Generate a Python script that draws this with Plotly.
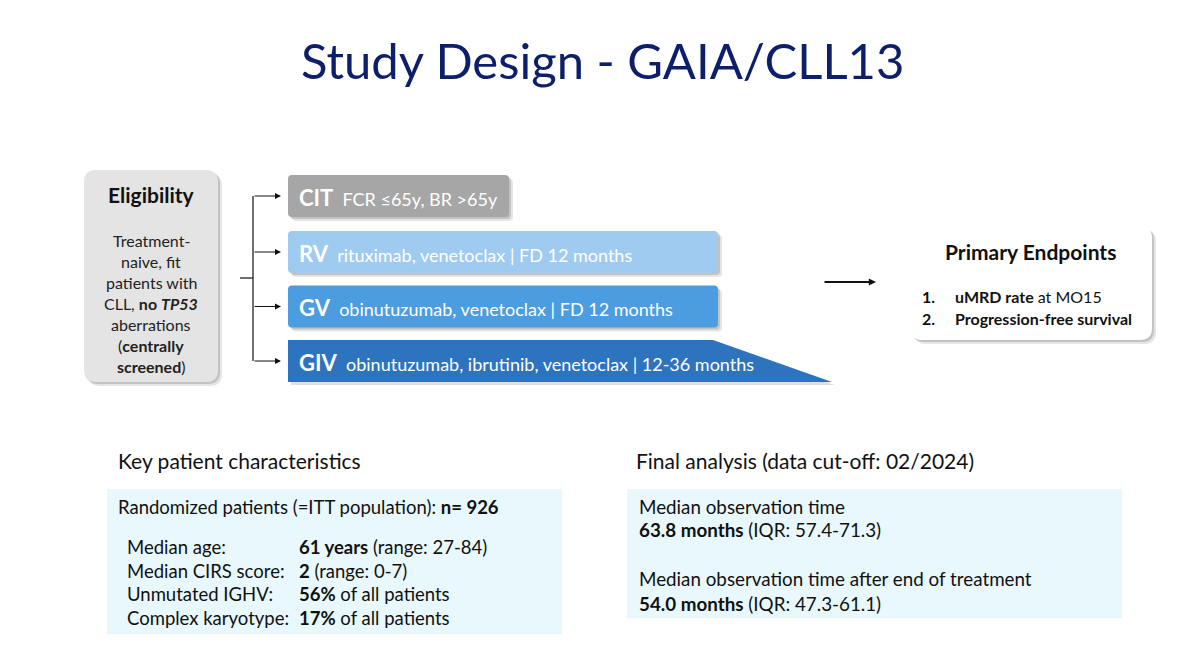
import plotly.graph_objects as go

# ---------------- data ----------------
title_text = "Study Design - GAIA/CLL13"
elig_title = "Eligibility"
elig_lines = ["Treatment-", "naive, fit", "patients with", "CLL, <b>no <i>TP53</i></b>",
              "aberrations", "(<b>centrally</b>", "<b>screened</b>)"]
arm_codes = ["CIT", "RV", "GV", "GIV"]
arm_regimens = ["FCR ≤65y, BR >65y",
                "rituximab, venetoclax | FD 12 months",
                "obinutuzumab, venetoclax | FD 12 months",
                "obinutuzumab, ibrutinib, venetoclax | 12-36 months"]
endpoint_title = "Primary Endpoints"
endpoint_nums = ["1.", "2."]
endpoint_items = ["<b>uMRD rate</b> at MO15", "<b>Progression-free survival</b>"]
left_header = "Key patient characteristics"
itt_line = "Randomized patients (=ITT population): <b>n= 926</b>"
char_labels = ["Median age:", "Median CIRS score:", "Unmutated IGHV:", "Complex karyotype:"]
char_values = ["<b>61 years</b> (range: 27-84)", "<b>2</b> (range: 0-7)",
               "<b>56%</b> of all patients", "<b>17%</b> of all patients"]
right_header = "Final analysis (data cut-off: 02/2024)"
obs_labels = ["Median observation time", "Median observation time after end of treatment"]
obs_values = ["<b>63.8 months</b> (IQR: 57.4-71.3)", "<b>54.0 months</b> (IQR: 47.3-61.1)"]

# ---------------- styles / layout positions ----------------
FONT = "Lato"
arm_colors = ["#A6A6A6", "#A0CBF1", "#4C9CE0", "#2E73BE"]
arm_y = [196, 252, 306.5, 361]
arm_x1 = [509, 718, 718, 713]
arm_h = 42

fig = go.Figure()
shapes = []
ann = []


def rrect(x0, y0, x1, y1, r):
    return (f"M {x0+r},{y0} L {x1-r},{y0} Q {x1},{y0} {x1},{y0+r} L {x1},{y1-r} "
            f"Q {x1},{y1} {x1-r},{y1} L {x0+r},{y1} Q {x0},{y1} {x0},{y1-r} "
            f"L {x0},{y0+r} Q {x0},{y0} {x0+r},{y0} Z")


def box(x0, y0, x1, y1, r, fill, shadow=True, line=None):
    if shadow:
        for k, op in [(4, 0.10), (2, 0.15)]:
            shapes.append(dict(type="path", path=rrect(x0 + k, y0 + k, x1 + k, y1 + k, r),
                               fillcolor="#000000", opacity=op, line=dict(width=0),
                               xref="x", yref="y", layer="below"))
    shapes.append(dict(type="path", path=rrect(x0, y0, x1, y1, r), fillcolor=fill,
                       line=dict(width=0) if line is None else line,
                       xref="x", yref="y", layer="below"))


def text(x, y, s, size, color="#111111", anchor="left"):
    ann.append(dict(x=x, y=y, xref="x", yref="y", text=s, showarrow=False,
                    xanchor=anchor, yanchor="middle",
                    font=dict(family=FONT, size=size, color=color)))


def arrow(x0, y0, x1, y1, width=1.2, size=1.0):
    ann.append(dict(x=x1, y=y1, ax=x0, ay=y0, xref="x", yref="y", axref="x", ayref="y",
                    text="", showarrow=True, arrowhead=2, arrowsize=size,
                    arrowwidth=width, arrowcolor="#111111", standoff=0))


# title
text(602, 60, title_text, 49, "#0D1F6B", "center")

# eligibility box
box(84, 170, 218, 382, 12, "#E4E4E4")
text(151, 194, f"<b>{elig_title}</b>", 21, "#111111", "center")
for i, ln in enumerate(elig_lines):
    text(151, 240 + i * 21, ln, 16, "#222222", "center")

# bracket
shapes.append(dict(type="line", x0=240, x1=253, y0=278, y1=278, xref="x", yref="y",
                   line=dict(color="#111111", width=1.2)))
shapes.append(dict(type="line", x0=253, x1=253, y0=arm_y[0], y1=arm_y[-1], xref="x", yref="y",
                   line=dict(color="#111111", width=1.2)))
for y in arm_y:
    arrow(253, y, 281, y, 1.2, 1.0)

# arms
for i, (code, reg) in enumerate(zip(arm_codes, arm_regimens)):
    y0, y1 = arm_y[i] - arm_h / 2, arm_y[i] + arm_h / 2
    if code == "GIV":
        p = (f"M 288,{y0} L {arm_x1[i]},{y0} L 832,{y1} L 288,{y1} Z")
        shapes.append(dict(type="path", path=f"M 291,{y0+3} L {arm_x1[i]+3},{y0+3} L 835,{y1+3} L 291,{y1+3} Z",
                           fillcolor="#000000", opacity=0.12, line=dict(width=0),
                           xref="x", yref="y", layer="below"))
        shapes.append(dict(type="path", path=p, fillcolor=arm_colors[i], line=dict(width=0),
                           xref="x", yref="y", layer="below"))
    else:
        box(288, y0, arm_x1[i], y1, 4, arm_colors[i])
    text(297, arm_y[i] + 1,
         f"<b><span style='font-size:22px'>{code}</span></b>  {reg}", 18, "#FFFFFF")

# arrow to endpoints
arrow(823, 282, 876, 282, 1.8, 0.8)

# endpoints box
box(910, 226, 1152, 340, 12, "#FFFFFF")
text(1030, 251, f"<b>{endpoint_title}</b>", 21, "#111111", "center")
for i, (n, it) in enumerate(zip(endpoint_nums, endpoint_items)):
    text(920, 296 + i * 22, f"<b>{n}</b>", 16)
    text(953, 296 + i * 22, it, 16)

# bottom left
text(116, 460, left_header, 21, "#111111")
shapes.append(dict(type="rect", x0=107, x1=562, y0=489, y1=634, xref="x", yref="y",
                   fillcolor="#E8F8FC", line=dict(width=0), layer="below"))
text(116, 507, itt_line, 18.5)
for i, (lab, val) in enumerate(zip(char_labels, char_values)):
    yy = 547 + i * 23.5
    text(125, yy, lab, 18.5)
    text(297, yy, val, 18.5)

# bottom right
text(634, 460, right_header, 21, "#111111")
shapes.append(dict(type="rect", x0=627, x1=1122, y0=489, y1=618, xref="x", yref="y",
                   fillcolor="#E8F8FC", line=dict(width=0), layer="below"))
for i, (lab, val) in enumerate(zip(obs_labels, obs_values)):
    text(637, 506 + i * 72, lab, 18.8)
    text(637, 529 + i * 74, val, 18.8)

# page shows the figure with an 8px body margin, so shift the axes accordingly
fig.update_layout(
    width=1184, height=653,
    margin=dict(l=0, r=0, t=0, b=0),
    paper_bgcolor="#FFFFFF", plot_bgcolor="#FFFFFF",
    xaxis=dict(range=[8, 1192], visible=False, fixedrange=True),
    yaxis=dict(range=[661, 8], visible=False, fixedrange=True),
    shapes=shapes, annotations=ann, showlegend=False,
)
fig.write_html("out.html")
